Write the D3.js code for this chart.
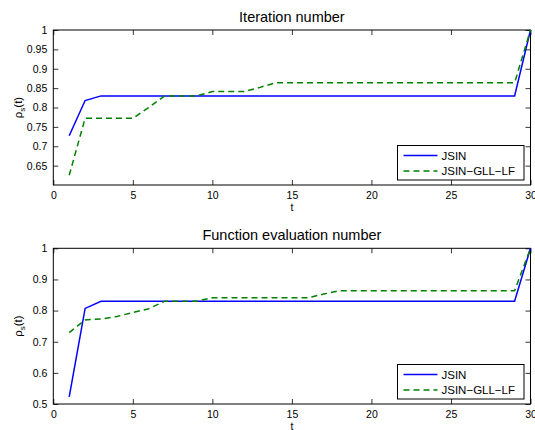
<!DOCTYPE html>
<html><head><meta charset="utf-8">
<script src="https://cdn.jsdelivr.net/npm/d3@7"></script>
<style>body{margin:0;background:#fff}svg{display:block;font-family:"Liberation Sans",Arial,sans-serif}</style>
</head><body><svg id="c" width="535" height="430"></svg>
<script>
const t = d3.range(1, 31);
const iterJSIN = [0.727,0.818,0.830,0.830,0.830,0.830,0.830,0.830,0.830,0.830,0.830,0.830,0.830,0.830,0.830,0.830,0.830,0.830,0.830,0.830,0.830,0.830,0.830,0.830,0.830,0.830,0.830,0.830,0.830,1.000];
const iterGLL  = [0.625,0.772,0.772,0.772,0.772,0.800,0.830,0.830,0.830,0.841,0.841,0.841,0.852,0.864,0.864,0.864,0.864,0.864,0.864,0.864,0.864,0.864,0.864,0.864,0.864,0.864,0.864,0.864,0.864,1.000];
const funJSIN  = [0.523,0.807,0.830,0.830,0.830,0.830,0.830,0.830,0.830,0.830,0.830,0.830,0.830,0.830,0.830,0.830,0.830,0.830,0.830,0.830,0.830,0.830,0.830,0.830,0.830,0.830,0.830,0.830,0.830,1.000];
const funGLL   = [0.729,0.770,0.773,0.781,0.794,0.806,0.830,0.830,0.830,0.841,0.841,0.841,0.841,0.841,0.841,0.841,0.853,0.864,0.864,0.864,0.864,0.864,0.864,0.864,0.864,0.864,0.864,0.864,0.864,1.000];
const xTicks = [0,5,10,15,20,25,30];
const yTicksTop = [0.65,0.7,0.75,0.8,0.85,0.9,0.95,1];
const yTicksBot = [0.5,0.6,0.7,0.8,0.9,1];
const seriesNames = ["JSIN","JSIN\u2212GLL\u2212LF"];
const titles = ["Iteration number","Function evaluation number"];

const svg = d3.select("#c");
const L = 53.3, R = 530.5;

function panel(top, bottom, yDom, yTicks, fmt, a, b, title, legTop){
  const x = d3.scaleLinear().domain([0,30]).range([L,R]);
  const y = d3.scaleLinear().domain(yDom).range([bottom, top]);
  const g = svg.append("g");
  const tl = 5;
  const axB = d3.axisBottom(x).tickValues(xTicks).tickSizeInner(-tl).tickSizeOuter(0).tickPadding(7).tickFormat(d3.format("d"));
  const axT = d3.axisTop(x).tickValues(xTicks).tickSizeInner(-tl).tickSizeOuter(0).tickFormat("");
  const axL = d3.axisLeft(y).tickValues(yTicks).tickSizeInner(-tl).tickSizeOuter(0).tickPadding(6).tickFormat(fmt);
  const axRt = d3.axisRight(y).tickValues(yTicks).tickSizeInner(-tl).tickSizeOuter(0).tickFormat("");
  [[axB,`translate(0,${bottom})`],[axT,`translate(0,${top})`],[axL,`translate(${L},0)`],[axRt,`translate(${R},0)`]].forEach(([ax,tr])=>{
    const gg = g.append("g").attr("transform",tr).call(ax);
    gg.select(".domain").remove();
    gg.selectAll("line").attr("stroke","#000").attr("stroke-width",0.8);
    gg.selectAll("text").attr("font-size",10.5).attr("fill","#000").attr("font-family","Liberation Sans, Arial, sans-serif");
  });
  g.append("rect").attr("x",L).attr("y",top).attr("width",R-L).attr("height",bottom-top)
    .attr("fill","none").attr("stroke","#000").attr("stroke-width",1);
  const line = d3.line().x((d,i)=>x(t[i])).y(d=>y(d));
  g.append("path").datum(a).attr("d",line).attr("fill","none").attr("stroke","#0000ff").attr("stroke-width",1.5);
  g.append("path").datum(b).attr("d",line).attr("fill","none").attr("stroke","#008000").attr("stroke-width",1.5).attr("stroke-dasharray","6,4");
  g.append("text").attr("x",(L+R)/2).attr("y",top-8).attr("text-anchor","middle").attr("font-size",14.5).text(title);
  g.append("text").attr("x",x(15)).attr("y",bottom+25.5).attr("text-anchor","middle").attr("font-size",10.5).text("t");
  const yl = g.append("text").attr("transform",`translate(21.5,${(top+bottom)/2}) rotate(-90)`).attr("text-anchor","middle").attr("font-size",11.5);
  yl.append("tspan").text("\u03c1");
  yl.append("tspan").attr("font-size",8).attr("dy",3).text("s");
  yl.append("tspan").attr("dy",-3).text("(t)");
  const lx = 397.5, lw = 126.5, lh = 34.5;
  const lg = g.append("g");
  lg.append("rect").attr("x",lx).attr("y",legTop).attr("width",lw).attr("height",lh).attr("fill","#fff").attr("stroke","#000").attr("stroke-width",1);
  const cols = ["#0000ff","#008000"], dash = [null,"6,4"];
  seriesNames.forEach((n,i)=>{
    const yy = legTop + 10 + i*15.5;
    lg.append("line").attr("x1",lx+6).attr("x2",lx+40).attr("y1",yy).attr("y2",yy).attr("stroke",cols[i]).attr("stroke-width",1.5).attr("stroke-dasharray",dash[i]);
    lg.append("text").attr("x",lx+44).attr("y",yy+4).attr("font-size",11.5).text(n);
  });
}
panel(30, 185, [0.6,1], yTicksTop, d=> d===1?"1":d3.format(".2~f")(d), iterJSIN, iterGLL, titles[0], 145.5);
panel(248.3, 404, [0.5,1], yTicksBot, d=> d===1?"1":d3.format(".1f")(d), funJSIN, funGLL, titles[1], 364.5);
</script></body></html>
